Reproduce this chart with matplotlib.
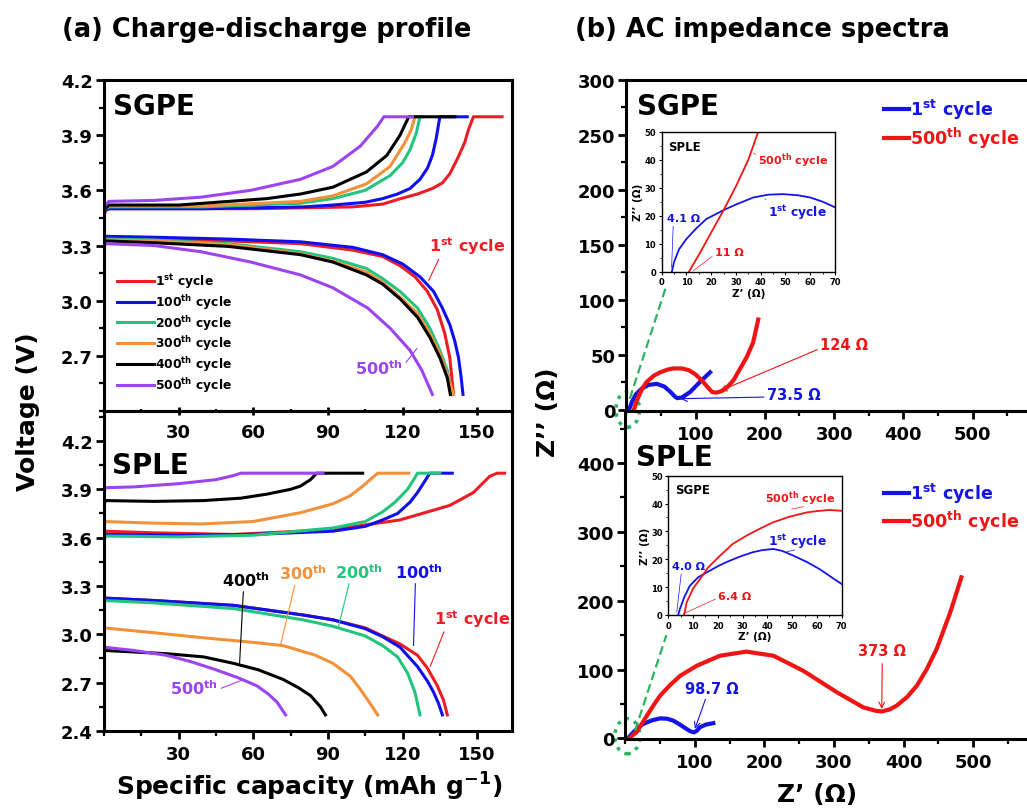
import matplotlib
matplotlib.use("Agg")
import matplotlib.pyplot as plt
from matplotlib.patches import Ellipse
from matplotlib.ticker import FixedLocator, MultipleLocator

plt.rcParams["font.family"] = ["DejaVu Sans"]
plt.rcParams["font.weight"] = "bold"
plt.rcParams["axes.labelweight"] = "bold"
plt.rcParams["mathtext.fontset"] = "custom"
plt.rcParams["mathtext.rm"] = "DejaVu Sans:bold"
plt.rcParams["mathtext.it"] = "DejaVu Sans:bold"
plt.rcParams["mathtext.bf"] = "DejaVu Sans:bold"

# ---------------- data: (a) charge-discharge, SGPE ----------------
cycles = ["1$^{st}$ cycle", "100$^{th}$ cycle", "200$^{th}$ cycle",
          "300$^{th}$ cycle", "400$^{th}$ cycle", "500$^{th}$ cycle"]

sgpe_chg_x = [
    [0, 0, 0.5, 2, 20, 60, 100, 112, 119, 126, 132, 136, 139, 142, 145, 146.5, 148.5, 160],
    [0, 0.5, 2, 40, 80, 92, 105, 112, 118, 123, 127, 130, 132, 133.5, 135, 146],
    [0, 0.5, 2, 40, 79, 92, 105, 115, 120, 123, 125.5, 127, 128],
    [0, 0.5, 2, 40, 79, 92, 105.5, 115, 121, 123.5, 125, 126],
    [0, 0.5, 2, 30, 65.5, 79, 92, 105.5, 113.7, 119, 122.5, 141],
    [0, 0.5, 2, 20, 39, 59, 79, 92, 103, 110, 112.5, 124],
]
sgpe_chg_v = [
    [3.16, 3.45, 3.49, 3.50, 3.50, 3.50, 3.51, 3.525, 3.554, 3.58, 3.61, 3.64, 3.69, 3.77, 3.86, 3.93, 4.0, 4.0],
    [3.46, 3.49, 3.50, 3.50, 3.51, 3.52, 3.535, 3.555, 3.58, 3.61, 3.66, 3.72, 3.79, 3.88, 4.0, 4.0],
    [3.47, 3.50, 3.51, 3.51, 3.53, 3.555, 3.60, 3.68, 3.75, 3.82, 3.91, 4.0, 4.0],
    [3.47, 3.50, 3.515, 3.515, 3.54, 3.57, 3.635, 3.73, 3.86, 3.93, 4.0, 4.0],
    [3.47, 3.50, 3.52, 3.52, 3.555, 3.58, 3.617, 3.70, 3.79, 3.90, 4.0, 4.0],
    [3.48, 3.52, 3.54, 3.545, 3.563, 3.60, 3.66, 3.73, 3.84, 3.95, 4.0, 4.0],
]
sgpe_dis_x = [
    [0, 0.5, 20, 50, 79, 100, 112, 119, 125, 130, 134, 137, 139, 140.5],
    [0, 0.5, 20, 50, 79, 100, 112, 120, 127, 132.5, 136, 139, 141, 142.5, 143.5, 144.3],
    [0, 0.5, 20, 50, 79, 92, 105.5, 112, 119, 126, 131, 135, 138, 140],
    [0, 0.5, 20, 50, 79, 92, 105.5, 112, 119, 126, 131, 135, 138, 140.5],
    [0, 0.5, 20, 50, 79, 92, 105.5, 112, 119, 126, 131, 135, 138, 139.2],
    [0, 0.5, 20, 39, 59, 79, 92, 106, 115, 123, 127.8, 132],
]
sgpe_dis_v = [
    [3.30, 3.34, 3.335, 3.325, 3.31, 3.275, 3.24, 3.19, 3.13, 3.05, 2.95, 2.82, 2.69, 2.49],
    [3.30, 3.35, 3.345, 3.335, 3.32, 3.29, 3.25, 3.20, 3.13, 3.05, 2.96, 2.87, 2.78, 2.69, 2.59, 2.49],
    [3.30, 3.335, 3.33, 3.31, 3.266, 3.23, 3.175, 3.12, 3.05, 2.96, 2.85, 2.73, 2.62, 2.49],
    [3.30, 3.33, 3.325, 3.305, 3.255, 3.215, 3.155, 3.10, 3.02, 2.93, 2.82, 2.71, 2.60, 2.49],
    [3.29, 3.325, 3.315, 3.295, 3.25, 3.21, 3.14, 3.09, 3.01, 2.91, 2.80, 2.69, 2.58, 2.49],
    [3.28, 3.31, 3.30, 3.266, 3.21, 3.14, 3.07, 2.96, 2.85, 2.73, 2.62, 2.49],
]

# ---------------- data: (a) charge-discharge, SPLE ----------------
sple_chg_x = [
    [0, 0, 0.5, 20, 52, 92, 119, 139, 148.5, 155, 158, 161],
    [0, 0.5, 30, 60, 92, 105, 112, 118, 123, 126, 128.5, 131, 140],
    [0, 0.5, 30, 60, 92, 105, 112, 117, 122, 124.5, 126, 135],
    [0, 0.5, 20, 39, 60, 79, 92, 99, 104, 107, 110, 122.5],
    [0, 0.5, 20, 40, 55, 65.5, 75, 79, 83, 85.5, 104],
    [0, 0.5, 12, 30, 45, 52, 55, 88],
]
sple_chg_v = [
    [3.18, 3.62, 3.64, 3.63, 3.62, 3.65, 3.71, 3.80, 3.88, 3.98, 4.0, 4.0],
    [3.58, 3.62, 3.615, 3.62, 3.64, 3.67, 3.71, 3.75, 3.82, 3.88, 3.94, 4.0, 4.0],
    [3.57, 3.61, 3.605, 3.615, 3.66, 3.70, 3.76, 3.82, 3.90, 3.96, 4.0, 4.0],
    [3.66, 3.70, 3.69, 3.685, 3.70, 3.755, 3.81, 3.86, 3.92, 3.96, 4.0, 4.0],
    [3.80, 3.83, 3.825, 3.83, 3.845, 3.87, 3.90, 3.92, 3.96, 4.0, 4.0],
    [3.88, 3.91, 3.915, 3.935, 3.96, 3.985, 4.0, 4.0],
]
sple_dis_x = [
    [0, 20, 52, 80, 92, 105, 112, 119, 126, 130, 134, 136.5, 138],
    [0, 20, 52, 80, 92, 105, 112, 119, 126, 130, 132.5, 134.5, 136],
    [0, 20, 52, 80, 92, 105, 112, 118, 122, 125, 127],
    [0, 20, 39, 60, 72, 85, 92, 99, 103, 107, 110],
    [0, 25, 40, 52, 62, 72, 78, 83, 87, 89],
    [0, 12, 25, 35, 45, 54, 61.5, 66, 69.5, 73],
]
sple_dis_v = [
    [3.225, 3.21, 3.18, 3.12, 3.09, 3.04, 2.99, 2.94, 2.87, 2.79, 2.68, 2.59, 2.50],
    [3.225, 3.21, 3.18, 3.12, 3.09, 3.035, 2.985, 2.92, 2.80, 2.71, 2.64, 2.57, 2.50],
    [3.21, 3.195, 3.16, 3.09, 3.05, 2.99, 2.93, 2.86, 2.76, 2.64, 2.50],
    [3.04, 3.01, 2.98, 2.95, 2.93, 2.87, 2.82, 2.74, 2.66, 2.57, 2.50],
    [2.90, 2.88, 2.86, 2.82, 2.78, 2.72, 2.67, 2.62, 2.55, 2.50],
    [2.92, 2.90, 2.87, 2.83, 2.78, 2.73, 2.68, 2.63, 2.58, 2.50],
]

# ---------------- data: (b) impedance ----------------
eis_labels = ["1$^{st}$ cycle", "500$^{th}$ cycle"]

sgpe_z1_re = [4.1, 8, 14, 22, 32, 44, 55, 64, 70, 73.5, 80, 92, 106, 121]
sgpe_z1_im = [0, 7, 14, 19, 22.5, 23.5, 21, 16, 12, 10.5, 11, 16, 25, 34]
sgpe_z500_re = [11, 15, 22, 29, 40, 49, 60, 68, 80, 90, 100, 110, 118, 124, 130,
                138, 145, 155, 164, 174, 183, 190.5]
sgpe_z500_im = [0, 8, 18, 25, 31, 34, 36.5, 37.5, 37.5, 36, 32, 26, 20, 16, 15.5,
                17, 20, 27, 37, 48, 61, 82]

sple_z1_re = [4, 8, 11.5, 18, 26, 38, 50, 60, 69, 80, 88, 94, 98.7, 103, 107, 116, 126.5]
sple_z1_im = [0, 5, 8.7, 15, 21, 26, 29, 28.5, 25.7, 19, 13.6, 10, 8.7, 11, 16, 20, 22]
sple_z500_re = [6.4, 10, 16, 23, 31, 40, 50, 65, 79, 103, 136, 174, 213, 256, 304,
                342, 360, 368.5, 380, 390, 405, 419, 433, 447.5, 467, 483]
sple_z500_im = [0, 4, 8.7, 20, 33, 47, 62, 78, 91, 105.6, 120, 126, 120, 98, 67,
                45, 40, 39, 42, 47.5, 60, 76.5, 100, 130, 183, 234]

# insets (zoom of the high-frequency region)
inset_sple_z1_re = [4.1, 5, 7, 10, 14, 18, 25, 30, 37, 43, 49, 55, 60, 65, 70]
inset_sple_z1_im = [0, 3.5, 8, 11.7, 15.5, 18.8, 22, 24, 26.5, 27.5, 27.7, 27.3, 26.5, 25, 23]
inset_sple_z500_re = [11, 15, 20, 25, 30, 35, 39]
inset_sple_z500_im = [0, 6, 14, 22, 30.5, 40, 50]

inset_sgpe_z1_re = [4, 4.7, 6.5, 8.7, 12, 15.5, 20, 23.5, 29, 34, 38, 42.4, 46, 50.5,
                    56, 61, 66, 70]
inset_sgpe_z1_im = [0, 2.2, 6.5, 10.5, 13.5, 15.3, 17.5, 19, 21, 22.5, 23.3, 23.7, 23,
                    21.3, 19, 16.5, 13.5, 11.1]
inset_sgpe_z500_re = [6.4, 7.4, 10, 12.8, 16, 20.9, 26, 31.6, 37, 42.4, 49, 55.8, 60, 65, 70]
inset_sgpe_z500_im = [0, 4.5, 9.5, 12.9, 17, 21.3, 25.5, 28.5, 31, 33.3, 35.3, 36.8,
                      37.3, 37.7, 37.4]

# ---------------- styling ----------------
cd_colors = ["#ee1c25", "#1010ee", "#22c47e", "#f3903a", "#000000", "#9b44ef"]
eis_blue = "#1414e6"
eis_red = "#f01414"
zoom_green = "#2bb460"

W, H = 1027, 812


def px_box(x0, y0, x1, y1):
    return [x0 / W, 1 - y1 / H, (x1 - x0) / W, (y1 - y0) / H]


def style_axis(ax, lw=2.2, size=13):
    for sp in ax.spines.values():
        sp.set_linewidth(lw)
    ax.tick_params(which="major", direction="out", length=6, width=2,
                   labelsize=size, pad=2, top=False, right=False)
    ax.tick_params(which="minor", direction="out", length=3.5, width=1.6,
                   top=False, right=False)


fig = plt.figure(figsize=(W / 100, H / 100), dpi=100)

# ---- (a) SGPE
ax_a1 = fig.add_axes(px_box(104, 81, 512, 412))
for i in range(6):
    ax_a1.plot(sgpe_chg_x[i], sgpe_chg_v[i], color=cd_colors[i], lw=2.2)
    ax_a1.plot(sgpe_dis_x[i], sgpe_dis_v[i], color=cd_colors[i], lw=2.2,
               label=cycles[i])
ax_a1.set_xlim(0, 164)
ax_a1.set_ylim(2.4, 4.2)
ax_a1.yaxis.set_major_locator(FixedLocator([2.7, 3.0, 3.3, 3.6, 3.9, 4.2]))
ax_a1.yaxis.set_minor_locator(MultipleLocator(0.15))
ax_a1.xaxis.set_major_locator(FixedLocator([30, 60, 90, 120, 150]))
ax_a1.xaxis.set_minor_locator(MultipleLocator(15))
style_axis(ax_a1)
ax_a1.tick_params(axis="x", which="both", direction="inout", pad=6)
ax_a1.text(0.022, 0.92, "SGPE", transform=ax_a1.transAxes, fontsize=20,
           va="center", ha="left")
ax_a1.legend(loc="center left", bbox_to_anchor=(0.114, 0.589),
             bbox_transform=fig.transFigure, frameon=False, fontsize=8.8,
             handlelength=3.0, handletextpad=0.1, labelspacing=0.15,
             borderpad=0, borderaxespad=0)
ax_a1.annotate("1$^{st}$ cycle", xy=(130.5, 3.11), xytext=(130.5, 3.30),
               color=cd_colors[0], fontsize=11.5, ha="left", va="center",
               arrowprops=dict(arrowstyle="-", color=cd_colors[0], lw=0.8,
                               relpos=(0.15, 0.0), shrinkA=0, shrinkB=0))
ax_a1.annotate("500$^{th}$", xy=(125.8, 2.74), xytext=(101, 2.635),
               color=cd_colors[5], fontsize=11.5, ha="left", va="center",
               arrowprops=dict(arrowstyle="-", color=cd_colors[5], lw=0.8,
                               relpos=(1.0, 0.6), shrinkA=0, shrinkB=0))

# ---- (a) SPLE
ax_a2 = fig.add_axes(px_box(104, 412, 512, 732))
ax_a2.patch.set_alpha(0)
for i in range(6):
    ax_a2.plot(sple_chg_x[i], sple_chg_v[i], color=cd_colors[i], lw=2.2)
    ax_a2.plot(sple_dis_x[i], sple_dis_v[i], color=cd_colors[i], lw=2.2)
ax_a2.set_xlim(0, 164)
ax_a2.set_ylim(2.4, 4.386)
ax_a2.yaxis.set_major_locator(FixedLocator([2.4, 2.7, 3.0, 3.3, 3.6, 3.9, 4.2]))
ax_a2.yaxis.set_minor_locator(MultipleLocator(0.15))
ax_a2.xaxis.set_major_locator(FixedLocator([30, 60, 90, 120, 150]))
ax_a2.xaxis.set_minor_locator(MultipleLocator(15))
style_axis(ax_a2)
ax_a2.tick_params(axis="x", which="both", pad=4)
ax_a2.text(0.02, 0.83, "SPLE", transform=ax_a2.transAxes, fontsize=20,
           va="center", ha="left")

sple_notes = [
    ("400$^{th}$", (54.5, 2.82), (47.4, 3.34), (0.45, 0.0), 4),
    ("300$^{th}$", (70.9, 2.93), (70.2, 3.38), (0.35, 0.0), 3),
    ("200$^{th}$", (94.3, 3.05), (93.0, 3.39), (0.30, 0.0), 2),
    ("100$^{th}$", (124.4, 2.93), (117.1, 3.39), (0.42, 0.0), 1),
    ("1$^{st}$ cycle", (131.1, 2.80), (132.5, 3.10), (0.15, 0.0), 0),
    ("500$^{th}$", (56.2, 2.72), (26.7, 2.67), (1.0, 0.4), 5),
]
for txt, xy, xyt, rel, ci in sple_notes:
    ax_a2.annotate(txt, xy=xy, xytext=xyt, color=cd_colors[ci], fontsize=11.5,
                   ha="left", va="center",
                   arrowprops=dict(arrowstyle="-", color=cd_colors[ci], lw=0.8,
                                   relpos=rel, shrinkA=0, shrinkB=0))

fig.text(28 / W, 1 - 412 / H, "Voltage (V)", rotation=90, fontsize=18,
         ha="center", va="center")
fig.text(309 / W, 1 - 787 / H, "Specific capacity (mAh g$^{-1}$)", fontsize=18,
         ha="center", va="center")
fig.text(62 / W, 1 - 30 / H, "(a) Charge-discharge profile", fontsize=18.5,
         ha="left", va="center")

# ---- (b) SGPE impedance
x_right = 626.3 + 600 * 0.6927
ax_b1 = fig.add_axes(px_box(626.3, 80.7, x_right, 412))
ax_b1.plot(sgpe_z1_re, sgpe_z1_im, color=eis_blue, lw=3, label=eis_labels[0])
ax_b1.plot(sgpe_z500_re, sgpe_z500_im, color=eis_red, lw=3, label=eis_labels[1])
ax_b1.set_xlim(0, 600)
ax_b1.set_ylim(-1.2, 300)
ax_b1.yaxis.set_major_locator(MultipleLocator(50))
ax_b1.yaxis.set_minor_locator(MultipleLocator(25))
ax_b1.xaxis.set_major_locator(FixedLocator([100, 200, 300, 400, 500]))
ax_b1.xaxis.set_minor_locator(MultipleLocator(50))
style_axis(ax_b1)
ax_b1.tick_params(axis="x", which="both", pad=4)
ax_b1.text(0.026, 0.92, "SGPE", transform=ax_b1.transAxes, fontsize=20,
           va="center", ha="left")
ax_b1.legend(loc="center left", bbox_to_anchor=(884 / W, 1 - 124.5 / H),
             bbox_transform=fig.transFigure, frameon=False, fontsize=12.6,
             handlelength=1.4, handletextpad=0.1, labelspacing=0.2,
             borderpad=0, borderaxespad=0, labelcolor="linecolor")
ax_b1.annotate("124 \u03A9", xy=(135, 17), xytext=(279.6, 59.7), color=eis_red,
               fontsize=10.5, ha="left", va="center",
               arrowprops=dict(arrowstyle="->", color=eis_red, lw=0.8,
                               relpos=(0.0, 0.2), shrinkA=0, shrinkB=0))
ax_b1.annotate("73.5 \u03A9", xy=(78, 10), xytext=(202.6, 14.2), color=eis_blue,
               fontsize=10.5, ha="left", va="center",
               arrowprops=dict(arrowstyle="->", color=eis_blue, lw=0.8,
                               relpos=(0.0, 0.3), shrinkA=0, shrinkB=0))
ax_b1.plot([5, 58], [10, 113], color=zoom_green, lw=1.6, ls=(0, (4, 2)),
           clip_on=False)
ax_b1.add_patch(Ellipse((2, 0), 34, 32, fill=False, ec=zoom_green, lw=2.5,
                        ls=":", clip_on=False))

# ---- (b) SPLE impedance
ax_b2 = fig.add_axes(px_box(625.3, 412, 625.3 + 600 * 0.6958, 740))
ax_b2.patch.set_alpha(0)
ax_b2.plot(sple_z1_re, sple_z1_im, color=eis_blue, lw=3, label=eis_labels[0])
ax_b2.plot(sple_z500_re, sple_z500_im, color=eis_red, lw=3, label=eis_labels[1])
ax_b2.set_xlim(0, 600)
ax_b2.set_ylim(-1, 475.7)
ax_b2.yaxis.set_major_locator(MultipleLocator(100))
ax_b2.yaxis.set_minor_locator(MultipleLocator(50))
ax_b2.xaxis.set_major_locator(FixedLocator([100, 200, 300, 400, 500]))
ax_b2.xaxis.set_minor_locator(MultipleLocator(50))
style_axis(ax_b2)
ax_b2.tick_params(axis="x", which="both", pad=4)
ax_b2.text(0.026, 0.86, "SPLE", transform=ax_b2.transAxes, fontsize=20,
           va="center", ha="left")
ax_b2.legend(loc="center left", bbox_to_anchor=(884 / W, 1 - 508 / H),
             bbox_transform=fig.transFigure, frameon=False, fontsize=12.6,
             handlelength=1.4, handletextpad=0.1, labelspacing=0.2,
             borderpad=0, borderaxespad=0, labelcolor="linecolor")
ax_b2.annotate("98.7 \u03A9", xy=(100, 13.6), xytext=(85.8, 71.7), color=eis_blue,
               fontsize=10.5, ha="left", va="center",
               arrowprops=dict(arrowstyle="->", color=eis_blue, lw=0.8,
                               relpos=(0.4, 0.0), shrinkA=0, shrinkB=0))
ax_b2.annotate("373 \u03A9", xy=(368.5, 42.6), xytext=(335, 127.4), color=eis_red,
               fontsize=10.5, ha="left", va="center",
               arrowprops=dict(arrowstyle="->", color=eis_red, lw=0.8,
                               relpos=(0.5, 0.0), shrinkA=2, shrinkB=0))
ax_b2.plot([14, 59], [11, 150], color=zoom_green, lw=1.6, ls=(0, (4, 2)),
           clip_on=False)
ax_b2.add_patch(Ellipse((3, 3), 36, 51, fill=False, ec=zoom_green, lw=2.5,
                        ls=":", clip_on=False))

fig.text(548 / W, 1 - 412 / H, "Z\u2019\u2019 (\u03A9)", rotation=90, fontsize=18,
         ha="center", va="center")
fig.text(817 / W, 1 - 795 / H, "Z\u2019 (\u03A9)", fontsize=18,
         ha="center", va="center")
fig.text(575 / W, 1 - 30 / H, "(b) AC impedance spectra", fontsize=18.5,
         ha="left", va="center")


# ---- insets
def style_inset(ax):
    ax.set_xlim(0, 70)
    ax.set_ylim(0, 50)
    ax.xaxis.set_major_locator(MultipleLocator(10))
    ax.xaxis.set_minor_locator(MultipleLocator(5))
    ax.yaxis.set_major_locator(MultipleLocator(10))
    ax.yaxis.set_minor_locator(MultipleLocator(5))
    for sp in ax.spines.values():
        sp.set_linewidth(1.0)
    ax.tick_params(which="major", direction="out", length=2.5, width=0.8,
                   labelsize=6, pad=1.5)
    ax.tick_params(which="minor", direction="out", length=1.5, width=0.6)
    ax.set_xlabel("Z\u2019 (\u03A9)", fontsize=7.5, labelpad=1)
    ax.set_ylabel("Z\u2019\u2019 (\u03A9)", fontsize=7.5, labelpad=1)


def inset_note(ax, txt, xy, xyt, rel, color, size):
    ax.annotate(txt, xy=xy, xytext=xyt, color=color, fontsize=size,
                ha="left", va="center",
                arrowprops=dict(arrowstyle="-", color=color, lw=0.5,
                                relpos=rel, shrinkA=0, shrinkB=0))


in1 = fig.add_axes(px_box(661.7, 132.7, 835, 272.7))
in1.plot(inset_sple_z1_re, inset_sple_z1_im, color=eis_blue, lw=1.3)
in1.plot(inset_sple_z500_re, inset_sple_z500_im, color=eis_red, lw=1.3)
style_inset(in1)
in1.text(2.7, 44.8, "SPLE", fontsize=8.5, va="center", ha="left")
inset_note(in1, "4.1 \u03A9", (4.0, 1.5), (2.0, 19.0), (0.2, 0.0), eis_blue, 8)
inset_note(in1, "11 \u03A9", (12.8, 0.4), (21.5, 6.9), (0.0, 0.3), eis_red, 8)
inset_note(in1, "500$^{th}$ cycle", (37, 42.4), (39, 39.9), (0.0, 0.7), eis_red, 8)
inset_note(in1, "1$^{st}$ cycle", (41.7, 26), (43, 21.5), (0.05, 1.0), eis_blue, 8.8)

in2 = fig.add_axes(px_box(668.3, 476.7, 841.7, 616))
in2.plot(inset_sgpe_z1_re, inset_sgpe_z1_im, color=eis_blue, lw=1.3)
in2.plot(inset_sgpe_z500_re, inset_sgpe_z500_im, color=eis_red, lw=1.3)
style_inset(in2)
in2.text(2.7, 44.9, "SGPE", fontsize=8.5, va="center", ha="left")
inset_note(in2, "4.0 \u03A9", (3.4, 1.0), (1.35, 17.5), (0.3, 0.0), eis_blue, 8)
inset_note(in2, "6.4 \u03A9", (6.0, 0.4), (20.2, 6.9), (0.0, 0.3), eis_red, 8)
inset_note(in2, "500$^{th}$ cycle", (49.8, 38), (39, 42.2), (0.55, 0.0), eis_red, 8)
inset_note(in2, "1$^{st}$ cycle", (47.8, 22.7), (40.4, 26.7), (0.45, 0.0), eis_blue, 8.8)

fig.savefig("out.png", dpi=100)
